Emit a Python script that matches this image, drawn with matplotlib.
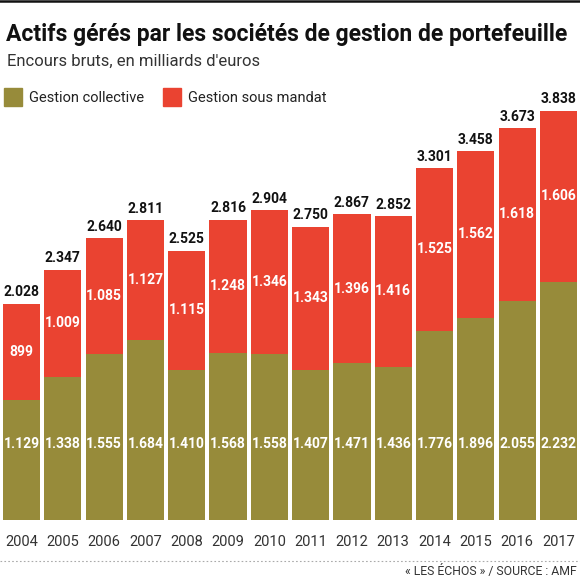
import matplotlib
matplotlib.use("Agg")
import matplotlib.pyplot as plt
from matplotlib.patches import Rectangle
from matplotlib.lines import Line2D

years = ["2004", "2005", "2006", "2007", "2008", "2009", "2010",
         "2011", "2012", "2013", "2014", "2015", "2016", "2017"]
collective = [1129, 1338, 1555, 1684, 1410, 1568, 1558,
              1407, 1471, 1436, 1776, 1896, 2055, 2232]
mandat = [899, 1009, 1085, 1127, 1115, 1248, 1346,
          1343, 1396, 1416, 1525, 1562, 1618, 1606]
totals = [2028, 2347, 2640, 2811, 2525, 2816, 2904,
          2750, 2867, 2852, 3301, 3458, 3673, 3838]

OLIVE = "#978B3A"
RED = "#EA4331"
FONT = ["Roboto", "DejaVu Sans"]
plt.rcParams["font.family"] = FONT

W, H = 580, 581
fig = plt.figure(figsize=(W / 100, H / 100), dpi=100)

def fx(px):
    return px / W

def fy(py):
    return 1 - py / H

def fmt(v):
    return f"{v:,}".replace(",", ".")

ax_left, ax_right = 3, 577
ax_top, ax_bottom = 110.5, 520
ax = fig.add_axes([fx(ax_left), fy(ax_bottom), fx(ax_right - ax_left),
                   (ax_bottom - ax_top) / H])
x = list(range(len(years)))
bw = 0.9
ax.bar(x, collective, width=bw, color=OLIVE, linewidth=0)
ax.bar(x, mandat, width=bw, bottom=collective, color=RED, linewidth=0)
ax.set_xlim(-bw / 2, len(years) - 1 + bw / 2)
ax.set_ylim(0, max(totals))
ax.axis("off")

for i in x:
    ax.text(i, 710, fmt(collective[i]), ha="center", va="center",
            color="white", fontsize=10, fontweight="bold")
    ax.text(i, collective[i] + mandat[i] / 2, fmt(mandat[i]), ha="center",
            va="center", color="white", fontsize=10, fontweight="bold")
    ax.annotate(fmt(totals[i]), (i, collective[i] + mandat[i]),
                xytext=(0, 3), textcoords="offset points", ha="center",
                va="bottom", color="#111111", fontsize=10, fontweight="bold",
                annotation_clip=False)
    ax.annotate(years[i], (i, 0), xytext=(0, -11), textcoords="offset points",
                ha="center", va="top", color="#333333", fontsize=10.5,
                annotation_clip=False)

# top rule
fig.add_artist(Line2D([0, 1], [fy(1), fy(1)], color="#111111", lw=1.8))

fig.text(fx(6), fy(35), "Actifs gérés par les sociétés de gestion de portefeuille",
         ha="left", va="center", fontsize=16.5, fontweight="bold", color="#111111")
fig.text(fx(7), fy(61), "Encours bruts, en milliards d'euros",
         ha="left", va="center", fontsize=12, color="#333333")

# legend
fig.add_artist(Rectangle((fx(4), fy(106)), fx(18), 18 / H, color=OLIVE,
                         transform=fig.transFigure))
fig.text(fx(29), fy(98), "Gestion collective", ha="left", va="center",
         fontsize=10.5, color="#222222")
fig.add_artist(Rectangle((fx(163), fy(106)), fx(18), 18 / H, color=RED,
                         transform=fig.transFigure))
fig.text(fx(188), fy(98), "Gestion sous mandat", ha="left", va="center",
         fontsize=10.5, color="#222222")

# footer
fig.add_artist(Line2D([0, 1], [fy(561), fy(561)], color="#AAAAAA", lw=0.8,
                      linestyle=(0, (1.5, 2))))
fig.text(fx(577), fy(572), "« LES ÉCHOS » / SOURCE : AMF", ha="right",
         va="center", fontsize=8.8, color="#333333")

fig.savefig("out.png", dpi=100)
